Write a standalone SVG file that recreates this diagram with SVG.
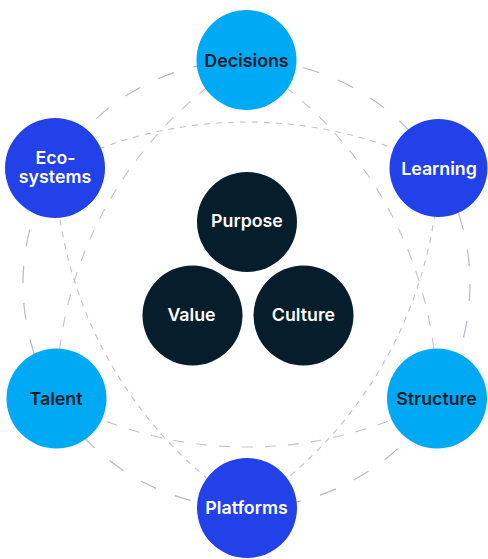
<svg xmlns="http://www.w3.org/2000/svg" width="488" height="559" viewBox="0 0 488 559">
  <style>
    .ring { fill: none; stroke: #b9bac2; stroke-width: 1.2; stroke-dasharray: 17 20; }
    .triA { fill: none; stroke: #c3c4cb; stroke-width: 1.1; stroke-dasharray: 11 12; }
    .triB { fill: none; stroke: #c3c4cb; stroke-width: 1.1; stroke-dasharray: 6 6; }
    .cyan { fill: #00a9f4; }
    .blue { fill: #2241e8; }
    .navy { fill: #061d2c; }
    text { font-family: Inter, "Liberation Sans", sans-serif; font-size: 17.8px; font-weight: 600; text-anchor: middle; }
    .dark { fill: #061d2c; }
    .light { fill: #ffffff; }
  </style>
  <rect width="488" height="559" fill="#ffffff"/>
  <g id="connectors">
    <circle class="ring" cx="246.5" cy="284" r="223.5"/>
    <path class="triA" d="M246.5,60 A397,397 0 0 1 437,398.5 A397,397 0 0 1 56.5,398.5 A397,397 0 0 1 246.5,60 Z"/>
    <path class="triB" d="M55,168 A424,424 0 0 1 439,168 A424,424 0 0 1 247,508 A424,424 0 0 1 55,168 Z"/>
  </g>
  <g id="decisions">
    <circle class="cyan" cx="246.5" cy="60" r="50"/>
    <text class="dark" x="246.5" y="67">Decisions</text>
  </g>
  <g id="learning">
    <circle class="blue" cx="438.5" cy="168" r="49"/>
    <text class="light" x="439" y="175">Learning</text>
  </g>
  <g id="structure">
    <circle class="cyan" cx="437" cy="398.5" r="50"/>
    <text class="dark" x="436.5" y="405">Structure</text>
  </g>
  <g id="platforms">
    <circle class="blue" cx="247" cy="508" r="50"/>
    <text class="light" x="246.5" y="514">Platforms</text>
  </g>
  <g id="talent">
    <circle class="cyan" cx="56.5" cy="398.5" r="50"/>
    <text class="dark" x="56" y="405">Talent</text>
  </g>
  <g id="ecosystems">
    <circle class="blue" cx="55" cy="168" r="50"/>
    <text class="light" x="55.5" y="164">Eco-</text>
    <text class="light" x="55" y="183">systems</text>
  </g>
  <g id="purpose">
    <circle class="navy" cx="247" cy="222" r="50"/>
    <text class="light" x="247" y="227">Purpose</text>
  </g>
  <g id="value">
    <circle class="navy" cx="192.5" cy="315.5" r="50"/>
    <text class="light" x="191.5" y="321">Value</text>
  </g>
  <g id="culture">
    <circle class="navy" cx="303.5" cy="315.5" r="50"/>
    <text class="light" x="303.5" y="321">Culture</text>
  </g>
</svg>
